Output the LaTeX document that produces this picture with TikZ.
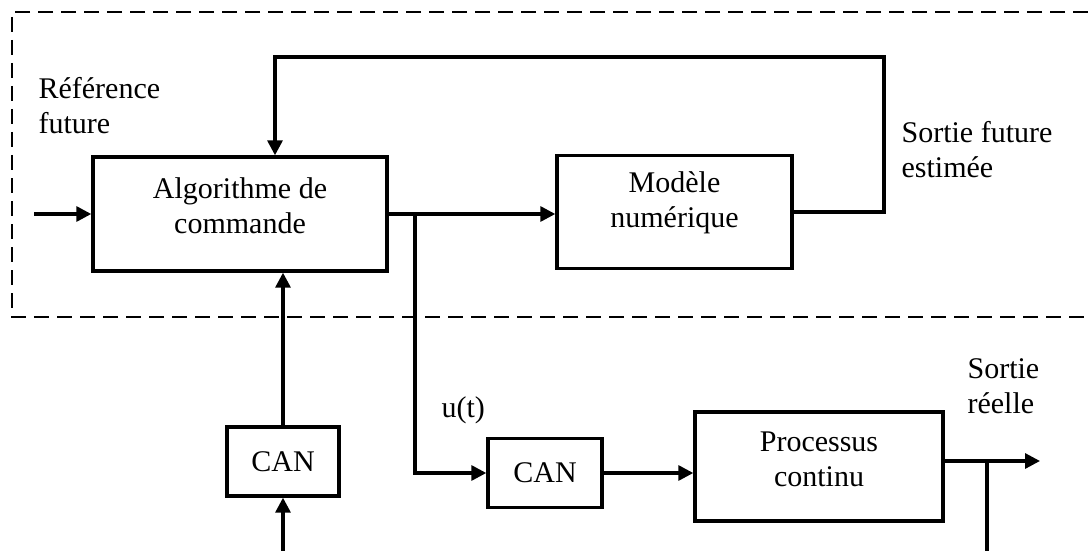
\documentclass[tikz,border=0pt]{standalone}
\usepackage{fontspec}
\setmainfont{Liberation Serif}
\usetikzlibrary{arrows.meta}
\begin{document}
\begin{tikzpicture}[x=1pt,y=-1pt,
  font=\fontsize{30}{35}\selectfont,
  line width=3.2pt,
  box/.style={draw, rectangle, align=center, inner sep=0pt, line width=3.4pt},
  arr/.style={-{Triangle[length=15pt,width=15pt]}},
  lift/.style={execute at end node={\rule[-#1]{0pt}{#1}}},
  lbl/.style={align=left, inner sep=0pt, anchor=west},
  frame/.style={dash pattern=on 15pt off 8pt, line width=2.6pt}]
\useasboundingbox (0,0) rectangle (1088,551);
% dashed frame (open on the right)
\draw[frame] (1088,12) -- (12,12) -- (12,317) -- (1088,317);
% blocks
\node[box, minimum width=294pt, minimum height=114pt, lift=17pt] (algo) at (240,214) {Algorithme de\\commande};
\node[box, minimum width=235pt, minimum height=113pt, lift=24pt] (mod) at (674.5,212) {Modèle\\numérique};
\node[box, minimum width=112pt, minimum height=69pt] (canA) at (283,461.5) {CAN};
\node[box, minimum width=114pt, minimum height=69pt] (canB) at (545,473) {CAN};
\node[box, minimum width=248pt, minimum height=109pt, lift=15pt] (proc) at (819,466.5) {Processus\\continu};
% labels
\node[lbl] (ref) at (37,106) {Référence\\future};
\node[lbl] (sfe) at (900,150) {Sortie future\\estimée};
\node[lbl] (sr) at (966,386) {Sortie\\réelle};
\node[lbl] (ut) at (440,410) {u(t)};
% coordinates
\coordinate (in) at (34,214);
\coordinate (fbR) at (884,57);
\coordinate (fbL) at (275,57);
\coordinate (br) at (415,214);
\coordinate (out) at (1040,461);
\coordinate (brO) at (987,461);
\coordinate (botR) at (987,551);
\coordinate (botL) at (283,551);
% connectors
\draw[arr] (in) -- (in -| algo.west);
\draw[arr] (algo.east) -- (algo.east -| mod.west);
\draw[arr] (mod.east) -- (mod.east -| fbR) -- (fbR) -- (fbL) -- (fbL |- algo.north);
\draw[arr] (br) -- (br |- canB.west) -- (canB.west);
\draw[arr] (canB.east) -- (canB.east -| proc.west);
\draw[arr] (out -| proc.east) -- (out);
\draw (brO) -- (botR);
\draw[arr] (botL) -- (canA.south);
\draw[arr] (canA.north) -- (canA.north |- algo.south);
\end{tikzpicture}
\end{document}
